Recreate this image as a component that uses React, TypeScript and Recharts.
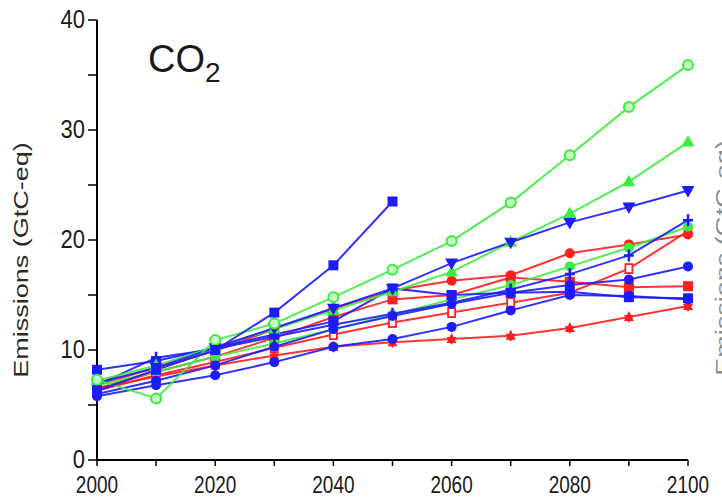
import { LineChart, Line, XAxis, YAxis } from 'recharts';

// years on the x axis
const YEARS = [2000, 2010, 2020, 2030, 2040, 2050, 2060, 2070, 2080, 2090, 2100];
const X_TICKS = [2000, 2010, 2020, 2030, 2040, 2050, 2060, 2070, 2080, 2090, 2100];
const Y_TICKS = [0, 5, 10, 15, 20, 25, 30, 35, 40];

// green scenarios
const G_CIRCLE = [7.3, 5.6, 10.9, 12.4, 14.8, 17.3, 19.9, 23.4, 27.7, 32.1, 35.9];
const G_TRI = [7.2, 8.6, 10.3, 11.9, 13.6, 15.3, 17.1, 19.8, 22.4, 25.3, 28.9];
const G_MID = [6.8, 8.0, 9.4, 10.6, 11.9, 13.2, 14.6, 15.9, 17.6, 19.3, 21.2];

// blue scenarios
const B_SQUARE = [6.3, 8.2, 10.0, 13.4, 17.7, 23.5, null, null, null, null, null];
const B_DTRI = [7.0, 8.4, 10.2, 12.0, 13.8, 15.6, 17.9, 19.8, 21.6, 23.0, 24.5];
const B_PLUS = [6.8, 9.3, 10.1, 11.2, 12.3, 13.3, 14.3, 15.5, 16.9, 18.6, 21.8];
const B_CIRCLE = [6.0, 7.2, 8.6, 10.3, 11.9, 13.1, 14.2, 15.2, 15.9, 16.4, 17.6];
const B_FLAT = [8.2, 9.0, 10.2, 11.4, 12.6, 15.6, 15.0, 15.2, 15.3, 14.8, 14.7];
const B_LOW = [5.8, 6.8, 7.7, 8.9, 10.3, 11.0, 12.1, 13.6, 15.0, 14.9, 14.6];

// red scenarios
const R_CIRCLE = [6.8, 8.4, 9.9, 11.9, 13.8, 15.4, 16.3, 16.8, 18.8, 19.6, 20.5];
const R_SQUARE = [6.5, 8.0, 9.4, 11.1, 13.0, 14.6, 15.0, 16.6, 16.2, 15.7, 15.8];
const R_OPEN = [6.3, 7.7, 8.9, 10.2, 11.4, 12.5, 13.4, 14.3, 15.2, 17.4, 20.8];
const R_STAR = [6.5, 7.6, 8.6, 9.5, 10.3, 10.7, 11.0, 11.3, 12.0, 13.0, 14.0];

const BLUE = '#1c1cff';
const RED = '#ff1f1f';
const GREEN = '#3cee3c';

type Shape = 'circle' | 'openCircle' | 'square' | 'openSquare' | 'tri' | 'dtri' | 'plus' | 'star';

const SERIES: { key: string; color: string; shape: Shape; values: (number | null)[] }[] = [
  { key: 'rStar', color: RED, shape: 'star', values: R_STAR },
  { key: 'rOpen', color: RED, shape: 'openSquare', values: R_OPEN },
  { key: 'rSquare', color: RED, shape: 'square', values: R_SQUARE },
  { key: 'rCircle', color: RED, shape: 'circle', values: R_CIRCLE },
  { key: 'gMid', color: GREEN, shape: 'circle', values: G_MID },
  { key: 'bLow', color: BLUE, shape: 'circle', values: B_LOW },
  { key: 'bFlat', color: BLUE, shape: 'square', values: B_FLAT },
  { key: 'bCircle', color: BLUE, shape: 'circle', values: B_CIRCLE },
  { key: 'bPlus', color: BLUE, shape: 'plus', values: B_PLUS },
  { key: 'gTri', color: GREEN, shape: 'tri', values: G_TRI },
  { key: 'bDtri', color: BLUE, shape: 'dtri', values: B_DTRI },
  { key: 'gCircle', color: GREEN, shape: 'openCircle', values: G_CIRCLE },
  { key: 'bSquare', color: BLUE, shape: 'square', values: B_SQUARE },
];

const data = YEARS.map((year, i) => {
  const row: Record<string, number | null> = { year };
  SERIES.forEach((s) => {
    row[s.key] = s.values[i];
  });
  return row;
});

function Marker({ cx, cy, shape, color }: { cx: number; cy: number; shape: Shape; color: string }) {
  const r = 5;
  switch (shape) {
    case 'circle':
      return <circle cx={cx} cy={cy} r={r} fill={color} />;
    case 'openCircle':
      return <circle cx={cx} cy={cy} r={r} fill="#c8f8c8" stroke={color} strokeWidth={2} />;
    case 'square':
      return <rect x={cx - r} y={cy - r} width={r * 2} height={r * 2} fill={color} />;
    case 'openSquare':
      return <rect x={cx - 3.5} y={cy - 4.5} width={7} height={9} fill="#fff" stroke={color} strokeWidth={1.8} />;
    case 'tri':
      return <path d={`M${cx},${cy - 7} L${cx + 6.5},${cy + 4.5} L${cx - 6.5},${cy + 4.5} Z`} fill={color} />;
    case 'dtri':
      return <path d={`M${cx - 6.5},${cy - 4.5} L${cx + 6.5},${cy - 4.5} L${cx},${cy + 7} Z`} fill={color} />;
    case 'plus':
      return (
        <path d={`M${cx - 5},${cy} L${cx + 5},${cy} M${cx},${cy - 6} L${cx},${cy + 6}`} stroke={color} strokeWidth={2.5} />
      );
    case 'star':
      return <path d={`M${cx},${cy - 6} L${cx + 5},${cy + 4} L${cx - 5},${cy + 4} Z M${cx - 5},${cy - 2} L${cx + 5},${cy - 2} L${cx},${cy + 6} Z`} fill={color} />;
  }
  return null;
}

function XTick({ x, y, payload }: any) {
  if (payload.value % 20 !== 0) return <g />;
  return (
    <g transform={`translate(${x},${y + 25}) scale(1,1.25)`}>
      <text textAnchor="middle" fontSize={19} fill="#1a1a1a" fontFamily="'Liberation Sans', Arial, sans-serif">
        {payload.value}
      </text>
    </g>
  );
}

function YTick({ x, y, payload }: any) {
  if (payload.value % 10 !== 0) return <g />;
  return (
    <g transform={`translate(${x - 1},${y + 8}) scale(1,1.2)`}>
      <text textAnchor="end" fontSize={22} fill="#1a1a1a" fontFamily="'Liberation Sans', Arial, sans-serif">
        {payload.value}
      </text>
    </g>
  );
}

export default function App() {
  return (
    <div style={{ position: 'absolute', left: 0, top: 0, width: 722, height: 501, overflow: 'hidden', background: '#fff' }}>
      <LineChart width={722} height={501} data={data} margin={{ top: 20, right: 34, bottom: 11, left: 0 }}>
        <XAxis
          dataKey="year"
          type="number"
          domain={[2000, 2100]}
          ticks={X_TICKS}
          tick={<XTick />}
          tickSize={6}
          height={30}
          axisLine={{ stroke: '#000', strokeWidth: 2 }}
          tickLine={{ stroke: '#000', strokeWidth: 1.5 }}
          interval={0}
        />
        <YAxis
          type="number"
          domain={[0, 40]}
          ticks={Y_TICKS}
          tick={<YTick />}
          tickSize={9}
          width={97}
          axisLine={{ stroke: '#000', strokeWidth: 2 }}
          tickLine={{ stroke: '#000', strokeWidth: 1.5 }}
          interval={0}
        />
        {SERIES.map((s) => (
          <Line
            key={s.key}
            dataKey={s.key}
            stroke={s.color}
            strokeWidth={2}
            strokeOpacity={0.9}
            isAnimationActive={false}
            connectNulls={false}
            dot={(p: any) =>
              p.cy == null || p.value == null ? (
                <g key={`${s.key}-${p.index}`} />
              ) : (
                <Marker key={`${s.key}-${p.index}`} cx={p.cx} cy={p.cy} shape={s.shape} color={s.color} />
              )
            }
            activeDot={false}
          />
        ))}
      </LineChart>
      <svg
        width={722}
        height={501}
        style={{ position: 'absolute', left: 0, top: 0, pointerEvents: 'none' }}
        fontFamily="'Liberation Sans', Arial, sans-serif"
      >
        <text x={148} y={72} fontSize={38} fill="#1a1a1a">
          CO
          <tspan fontSize={28} dy={10}>
            2
          </tspan>
        </text>
        <text transform="translate(28,260) rotate(-90) scale(1.35,1)" textAnchor="middle" fontSize={20} fill="#2a2a2a">
          Emissions (GtC-eq)
        </text>
        <text transform="translate(730,258) rotate(-90) scale(1.35,1)" textAnchor="middle" fontSize={20} fill="#8a8a8a">
          Emissions (GtC-eq)
        </text>
      </svg>
    </div>
  );
}
